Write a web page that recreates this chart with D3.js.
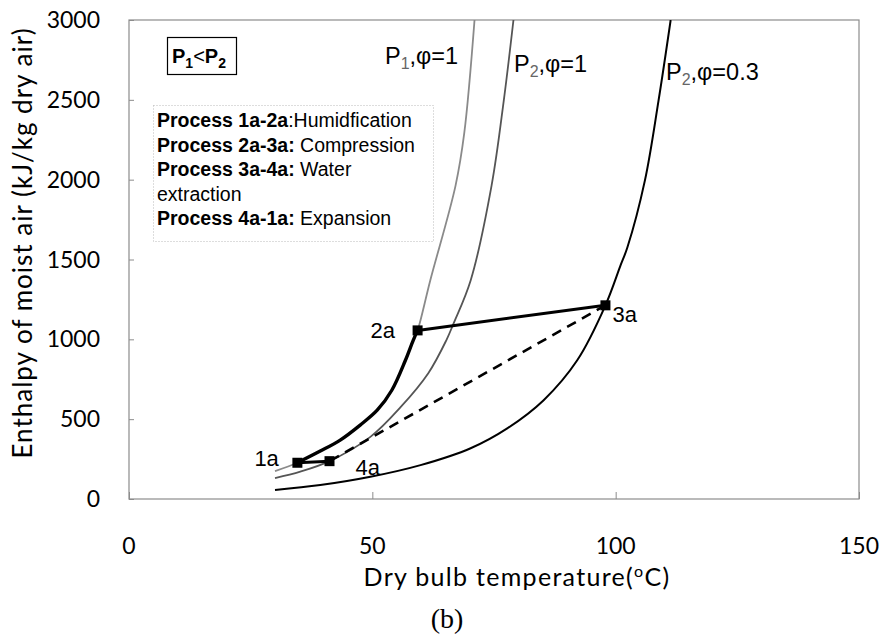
<!DOCTYPE html>
<html>
<head>
<meta charset="utf-8">
<script src="https://cdn.jsdelivr.net/npm/d3@7"></script>
<style>
  body { margin: 0; background: #fff; }
  text { fill: #000; }
</style>
</head>
<body>
<div id="chart"></div>
<script>
// Saturation / humidity curves (temperature degC, enthalpy kJ/kg dry air)
const p1SatT = [30, 34.6, 39.3, 43.4, 47.5, 51.0, 54.0, 56.8, 58.4, 59.3, 61.9, 67.1, 68.9, 71.0];
const p1SatH = [175, 227, 300, 369, 463, 556, 681, 869, 994, 1056, 1369, 1963, 2294, 3000];

const p2SatT = [30, 35.2, 41.2, 49.6, 55.8, 61.5, 65.2, 66.7, 70.2, 74.5, 77.0, 79.0];
const p2SatH = [131, 171, 237, 389, 575, 788, 994, 1100, 1369, 1963, 2494, 3000];

const p2RhT = [30, 39.3, 49.6, 59.9, 70.2, 77.8, 85.2, 92.1, 97.9, 101.0, 102.4, 106.0, 108.8, 111.3];
const p2RhH = [56, 87, 139, 212, 318, 444, 619, 869, 1213, 1463, 1575, 1994, 2494, 3000];

// Humidification path 1a -> 2a
const humidT = [34.6, 39.3, 43.4, 47.5, 51.0, 54.0, 56.8, 58.4, 59.3];
const humidH = [227, 300, 369, 463, 556, 681, 869, 994, 1056];

// State points
const pointNames = ["1a", "2a", "3a", "4a"];
const pointT = [34.6, 59.3, 97.9, 41.2];
const pointH = [227, 1056, 1213, 237];

// Axis ticks
const xTicks = [0, 50, 100, 150];
const yTicks = [0, 500, 1000, 1500, 2000, 2500, 3000];

const legendLines = [
  ["Process 1a-2a", ":Humidfication"],
  ["Process 2a-3a:", " Compression"],
  ["Process 3a-4a:", " Water"],
  ["", "extraction"],
  ["Process 4a-1a:", " Expansion"]
];

const W = 885, H = 638;
const margin = { top: 20, right: 26, bottom: 139, left: 129 },
  width = W - margin.left - margin.right,
  height = H - margin.top - margin.bottom;

const zip = (a, b) => a.map((v, i) => [v, b[i]]);

const root = d3.select("#chart").append("svg")
  .attr("width", W).attr("height", H);

const svg = root.append("g")
  .attr("transform", `translate(${margin.left},${margin.top})`);

const x = d3.scaleLinear().domain([0, 150]).range([0, width]);
const y = d3.scaleLinear().domain([0, 3000]).range([height, 0]);

// Frame
svg.append("rect")
  .attr("width", width).attr("height", height)
  .attr("fill", "none").attr("stroke", "#8c8c8c").attr("stroke-width", 1.2);

// Inside ticks
svg.append("g")
  .attr("transform", `translate(0,${height})`)
  .call(d3.axisTop(x).tickValues(xTicks).tickSize(7).tickFormat(""))
  .call(g => g.select(".domain").remove())
  .selectAll("line").attr("stroke", "#8c8c8c");
svg.append("g")
  .call(d3.axisRight(y).tickValues(yTicks).tickSize(5).tickFormat(""))
  .call(g => g.select(".domain").remove())
  .selectAll("line").attr("stroke", "#8c8c8c");

// Tick labels
svg.selectAll(".xl").data(xTicks).enter().append("text")
  .attr("x", d => x(d)).attr("y", height + 55)
  .attr("text-anchor", "middle")
  .style("font", "23px Lato")
  .text(d => d);
svg.selectAll(".yl").data(yTicks).enter().append("text")
  .attr("x", -29).attr("y", d => y(d) + 8)
  .attr("text-anchor", "end")
  .style("font", "23px Lato")
  .text(d => d);

// Axis titles
svg.append("text")
  .attr("x", 388).attr("y", height + 87)
  .attr("text-anchor", "middle")
  .style("font", "25px Lato").style("letter-spacing", "1.3px")
  .html('Dry bulb temperature(<tspan font-size="16" dy="-9">o</tspan><tspan dy="9">C)</tspan>');
svg.append("text")
  .attr("transform", `translate(${-97},${223}) rotate(-90)`)
  .attr("text-anchor", "middle")
  .style("font", "26px Lato").style("letter-spacing", "1px")
  .text("Enthalpy of moist air (kJ/kg dry air)");
root.append("text")
  .attr("x", 447).attr("y", 628)
  .attr("text-anchor", "middle")
  .style("font", "28px 'Liberation Serif'")
  .text("(b)");

// Curves
root.append("clipPath").attr("id", "clip")
  .append("rect").attr("width", width).attr("height", height);
const plot = svg.append("g").attr("clip-path", "url(#clip)");

const line = d3.line()
  .x(d => x(d[0])).y(d => y(d[1]))
  .curve(d3.curveCatmullRom.alpha(0.5));

plot.append("path").datum(zip(p1SatT, p1SatH))
  .attr("fill", "none").attr("stroke", "#8a8a8a").attr("stroke-width", 1.8)
  .attr("d", line);
plot.append("path").datum(zip(p2SatT, p2SatH))
  .attr("fill", "none").attr("stroke", "#555").attr("stroke-width", 1.8)
  .attr("d", line);
plot.append("path").datum(zip(p2RhT, p2RhH))
  .attr("fill", "none").attr("stroke", "#000").attr("stroke-width", 2)
  .attr("d", line);

// Process path
plot.append("path").datum(zip(humidT, humidH))
  .attr("fill", "none").attr("stroke", "#000").attr("stroke-width", 3.4)
  .attr("d", line);

const pts = pointNames.map((n, i) => ({ name: n, t: pointT[i], h: pointH[i] }));
const byName = Object.fromEntries(pts.map(p => [p.name, p]));
const seg = (a, b, dash) => {
  plot.append("line")
    .attr("x1", x(byName[a].t)).attr("y1", y(byName[a].h))
    .attr("x2", x(byName[b].t)).attr("y2", y(byName[b].h))
    .attr("stroke", "#000").attr("stroke-width", dash ? 2.6 : 3)
    .attr("stroke-dasharray", dash ? "10,7" : null);
};
seg("2a", "3a", false);
seg("3a", "4a", true);
seg("4a", "1a", false);

plot.selectAll(".pt").data(pts).enter().append("rect")
  .attr("x", d => x(d.t) - 5).attr("y", d => y(d.h) - 5)
  .attr("width", 10).attr("height", 10)
  .attr("fill", "#000");

// Point labels
const labelOffset = { "1a": [-43, 3], "2a": [-47, 8], "3a": [7, 17], "4a": [26, 14] };
svg.selectAll(".pl").data(pts).enter().append("text")
  .attr("x", d => x(d.t) + labelOffset[d.name][0])
  .attr("y", d => y(d.h) + labelOffset[d.name][1])
  .style("font", "22px 'Liberation Sans'")
  .text(d => d.name);

// Curve labels
function curveLabel(px, py, sub, rest) {
  const t = root.append("text").attr("x", px).attr("y", py)
    .style("font", "23.5px 'Liberation Sans'");
  t.append("tspan").text("P");
  t.append("tspan").attr("dy", 5).attr("font-size", 16).attr("fill", "#666").text(sub);
  t.append("tspan").attr("dy", -5).text("," + rest);
}
curveLabel(385, 64, "1", "\u03c6=1");
curveLabel(514, 72, "2", "\u03c6=1");
curveLabel(666, 80, "2", "\u03c6=0.3");

// P1<P2 box
root.append("rect")
  .attr("x", 167.5).attr("y", 37.5).attr("width", 69).attr("height", 37)
  .attr("fill", "#fff").attr("stroke", "#000").attr("stroke-width", 1.2);
const pb = root.append("text").attr("x", 172).attr("y", 63)
  .style("font", "bold 20px 'Liberation Sans'");
pb.append("tspan").text("P");
pb.append("tspan").attr("dy", 5).attr("font-size", 14).text("1");
pb.append("tspan").attr("dy", -5).attr("font-weight", "normal").text("<");
pb.append("tspan").text("P");
pb.append("tspan").attr("dy", 5).attr("font-size", 14).text("2");

// Legend box
root.append("rect")
  .attr("x", 153.5).attr("y", 105.5).attr("width", 280).attr("height", 136)
  .attr("fill", "#fff").attr("stroke", "#bbb").attr("stroke-width", 1)
  .attr("stroke-dasharray", "1,2");
legendLines.forEach((l, i) => {
  const t = root.append("text").attr("x", 157).attr("y", 127 + i * 24.5)
    .style("font", "19.5px 'Liberation Sans'");
  if (l[0]) t.append("tspan").attr("font-weight", "bold").text(l[0]);
  t.append("tspan").text(l[1]);
});
</script>
</body>
</html>
